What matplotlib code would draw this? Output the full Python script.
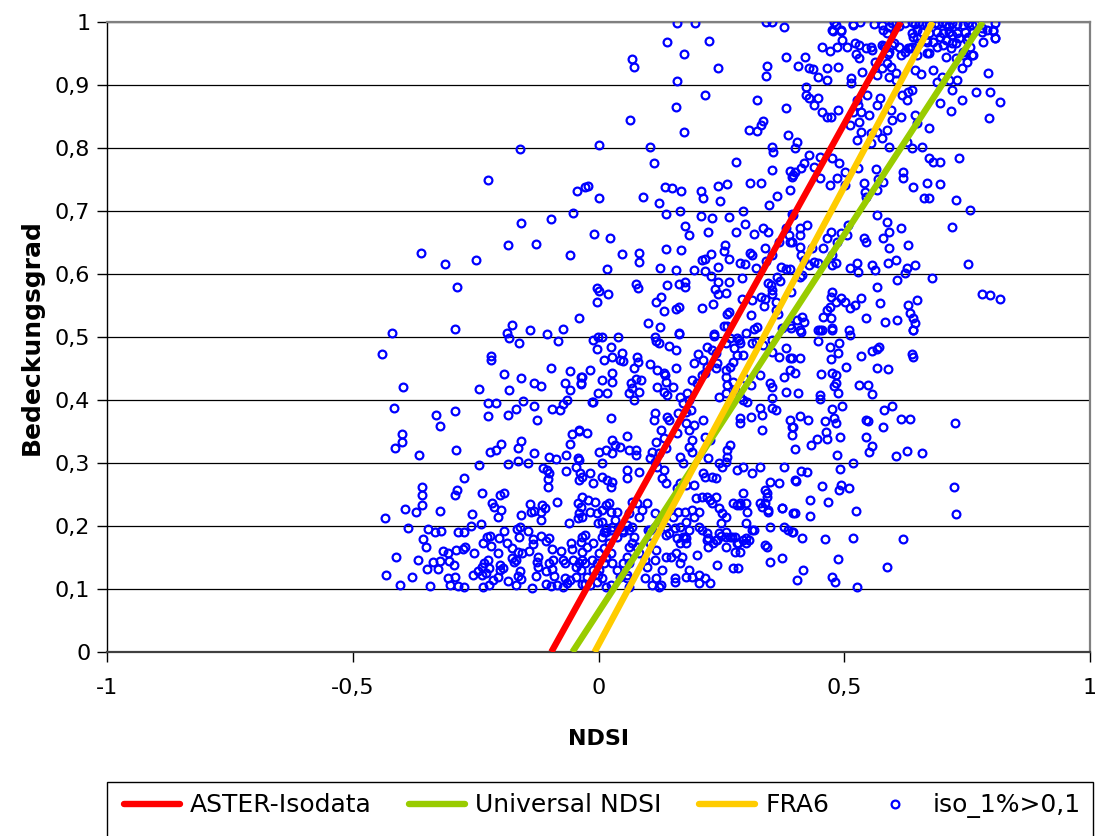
import matplotlib
matplotlib.use("Agg")
import matplotlib.pyplot as plt
from matplotlib.lines import Line2D
from matplotlib.patches import Rectangle
import numpy as np

plt.rcParams['font.family'] = ['DejaVu Sans']

# ---------------- data ----------------
# threshold lines: (NDSI at cover 0, NDSI at cover 1)
line_names = ["ASTER-Isodata", "Universal NDSI", "FRA6"]
line_colors = ["#FF0000", "#99CC00", "#FFCC00"]
line_x = [[-0.096, 0.615], [-0.053, 0.782], [-0.008, 0.680]]
line_y = [0.0, 1.0]

scatter_name = "iso_1%>0,1"

pts_upper_left = [
    (-0.159, 0.798), (-0.224, 0.749), (-0.043, 0.732), (-0.028, 0.738), (-0.051, 0.697),
    (-0.096, 0.687), (-0.157, 0.681), (-0.185, 0.646), (-0.128, 0.648), (-0.057, 0.630),
    (-0.362, 0.633), (-0.313, 0.616), (-0.250, 0.622), (-0.287, 0.579), (-0.039, 0.530),
    (-0.175, 0.519), (-0.187, 0.506), (-0.140, 0.511), (-0.104, 0.505), (-0.073, 0.513),
    (-0.291, 0.513), (-0.421, 0.506)]

pts_upper_mid = [
    (0.159, 0.998), (0.197, 0.998), (0.340, 1.0), (0.354, 1.0), (0.378, 0.992),
    (0.139, 0.968), (0.224, 0.970), (0.173, 0.949), (0.069, 0.941), (0.072, 0.929),
    (0.244, 0.927), (0.342, 0.930), (0.341, 0.914), (0.382, 0.944), (0.159, 0.906),
    (0.216, 0.884), (0.323, 0.876), (0.158, 0.865), (0.382, 0.863), (0.065, 0.844),
    (0.173, 0.826), (0.307, 0.829), (0.323, 0.827), (0.331, 0.836), (0.334, 0.843),
    (0.385, 0.821), (0.000, 0.805), (0.104, 0.802), (0.112, 0.776), (0.279, 0.778),
    (0.352, 0.802), (0.356, 0.794), (0.352, 0.765), (0.390, 0.764), (0.395, 0.757),
    (-0.022, 0.740), (0.002, 0.721), (0.091, 0.722), (0.124, 0.713), (0.136, 0.738),
    (0.149, 0.737), (0.167, 0.732), (0.208, 0.732), (0.212, 0.721), (0.244, 0.740),
    (0.262, 0.743), (0.248, 0.716), (0.309, 0.744), (0.330, 0.744), (0.346, 0.710),
    (0.364, 0.724), (0.389, 0.733), (0.138, 0.695), (0.165, 0.700), (0.208, 0.692),
    (0.230, 0.689), (0.266, 0.690), (0.293, 0.700), (0.393, 0.695), (-0.010, 0.663),
    (0.024, 0.657), (0.175, 0.676), (0.185, 0.662), (0.222, 0.667), (0.279, 0.667),
    (0.299, 0.679), (0.317, 0.663), (0.334, 0.673), (0.344, 0.667), (0.382, 0.673),
    (0.387, 0.662), (0.389, 0.651), (0.368, 0.651), (0.047, 0.632), (0.083, 0.633),
    (0.083, 0.619), (0.138, 0.640), (0.167, 0.638), (0.258, 0.646), (0.256, 0.637),
    (0.228, 0.632), (0.210, 0.622), (0.216, 0.624), (0.266, 0.624), (0.287, 0.617),
    (0.299, 0.616), (0.309, 0.633), (0.313, 0.630), (0.338, 0.641), (0.352, 0.630),
    (0.340, 0.621), (0.018, 0.608), (0.126, 0.610), (0.157, 0.606), (0.195, 0.606),
    (0.216, 0.605), (0.228, 0.597), (0.244, 0.611), (0.321, 0.610), (0.372, 0.611),
    (0.382, 0.608), (0.389, 0.608), (0.364, 0.595), (0.370, 0.589), (-0.004, 0.578),
    (0.002, 0.573), (0.020, 0.568), (-0.004, 0.556), (0.077, 0.584), (0.081, 0.578),
    (0.140, 0.583), (0.163, 0.584), (0.175, 0.587), (0.177, 0.579), (0.244, 0.587),
    (0.265, 0.587), (0.238, 0.576), (0.244, 0.568), (0.260, 0.570), (0.291, 0.594),
    (0.344, 0.586), (0.350, 0.583), (0.354, 0.575), (0.354, 0.568), (0.330, 0.564),
    (0.338, 0.560), (0.313, 0.559), (0.291, 0.560), (0.391, 0.571), (0.116, 0.556),
    (0.128, 0.563), (0.134, 0.541), (0.158, 0.544), (0.163, 0.548), (0.210, 0.546),
    (0.232, 0.552), (0.262, 0.537), (0.265, 0.540), (0.256, 0.517), (0.262, 0.517),
    (0.311, 0.535), (0.336, 0.549), (0.362, 0.556), (0.362, 0.543), (0.366, 0.537),
    (0.391, 0.514), (0.374, 0.514), (0.317, 0.513), (0.323, 0.516), (0.100, 0.522),
    (0.126, 0.516), (0.163, 0.506), (0.234, 0.505)]

pts_top_row = [
    (0.480, 1.0), (0.484, 0.995), (0.478, 0.986), (0.494, 0.986), (0.517, 0.995),
    (0.533, 1.0), (0.560, 0.997), (0.576, 0.995), (0.578, 0.987), (0.586, 0.982),
    (0.592, 0.992), (0.598, 0.998), (0.606, 1.0), (0.612, 0.994), (0.623, 0.998),
    (0.637, 1.0), (0.643, 0.997), (0.653, 1.0), (0.659, 0.997), (0.667, 0.998),
    (0.673, 0.995), (0.684, 0.998), (0.690, 0.997), (0.698, 1.0), (0.708, 0.997),
    (0.714, 0.994), (0.720, 0.998), (0.730, 0.997), (0.741, 0.995), (0.751, 0.998),
    (0.759, 0.995), (0.769, 0.997), (0.781, 0.990), (0.791, 0.987), (0.802, 0.986),
    (0.806, 0.998), (0.637, 0.982), (0.647, 0.987), (0.659, 0.984), (0.673, 0.982),
    (0.688, 0.984), (0.700, 0.982), (0.714, 0.984), (0.720, 0.979), (0.730, 0.982),
    (0.745, 0.984), (0.751, 0.976), (0.761, 0.984), (0.781, 0.984), (0.667, 0.971),
    (0.680, 0.968), (0.694, 0.976), (0.708, 0.971), (0.720, 0.967), (0.734, 0.975),
    (0.749, 0.971), (0.806, 0.975), (0.580, 0.962), (0.590, 0.950)]

pts_upper_right_a = [
    (0.476, 0.987), (0.494, 0.987), (0.496, 0.971), (0.517, 0.997), (0.454, 0.960),
    (0.472, 0.954), (0.486, 0.960), (0.505, 0.960), (0.521, 0.967), (0.531, 0.963),
    (0.545, 0.959), (0.555, 0.960), (0.557, 0.956), (0.576, 0.963), (0.582, 0.959),
    (0.592, 0.952), (0.598, 0.963), (0.612, 0.960), (0.623, 0.952), (0.629, 0.959),
    (0.637, 0.960), (0.639, 0.976), (0.647, 0.975), (0.653, 0.967), (0.669, 0.968),
    (0.673, 0.951), (0.688, 0.960), (0.700, 0.963), (0.708, 0.944), (0.718, 0.959),
    (0.728, 0.967), (0.741, 0.952), (0.755, 0.960), (0.761, 0.948), (0.783, 0.968),
    (0.806, 0.975), (0.802, 0.987), (0.792, 0.919)]

pts_upper_right_b = [
    (0.405, 0.930), (0.421, 0.944), (0.429, 0.927), (0.437, 0.925), (0.446, 0.913),
    (0.464, 0.927), (0.464, 0.908), (0.488, 0.929), (0.513, 0.911), (0.513, 0.903),
    (0.523, 0.949), (0.529, 0.943), (0.537, 0.921), (0.562, 0.937), (0.566, 0.916),
    (0.576, 0.927), (0.586, 0.935), (0.592, 0.913), (0.596, 0.929), (0.606, 0.919),
    (0.606, 0.908), (0.602, 0.967), (0.616, 0.948), (0.633, 0.959), (0.643, 0.924),
    (0.649, 0.948), (0.657, 0.917), (0.669, 0.951), (0.680, 0.924), (0.688, 0.905),
    (0.698, 0.913), (0.714, 0.908), (0.728, 0.943), (0.730, 0.908), (0.739, 0.927),
    (0.741, 0.948), (0.749, 0.937), (0.759, 0.948)]

pts_upper_right_c = [
    (0.423, 0.897), (0.423, 0.884), (0.429, 0.879), (0.446, 0.879), (0.439, 0.868),
    (0.454, 0.857), (0.464, 0.849), (0.474, 0.849), (0.488, 0.860), (0.511, 0.837),
    (0.517, 0.857), (0.525, 0.876), (0.527, 0.868), (0.535, 0.857), (0.547, 0.884),
    (0.551, 0.852), (0.531, 0.841), (0.535, 0.825), (0.555, 0.824), (0.566, 0.868),
    (0.572, 0.879), (0.566, 0.825), (0.576, 0.816), (0.586, 0.829), (0.596, 0.860),
    (0.598, 0.844), (0.616, 0.849), (0.618, 0.884), (0.627, 0.876), (0.629, 0.889),
    (0.637, 0.892), (0.643, 0.852), (0.647, 0.840), (0.659, 0.802), (0.673, 0.832),
    (0.694, 0.871), (0.720, 0.892), (0.739, 0.876), (0.769, 0.889), (0.796, 0.889),
    (0.816, 0.873), (0.794, 0.848), (0.718, 0.859), (0.525, 0.813), (0.555, 0.808),
    (0.592, 0.802), (0.627, 0.810), (0.637, 0.800)]

pts_upper_right_d = [
    (0.403, 0.810), (0.399, 0.800), (0.429, 0.789), (0.450, 0.786), (0.419, 0.776),
    (0.439, 0.770), (0.399, 0.762), (0.393, 0.754), (0.413, 0.768), (0.450, 0.752),
    (0.470, 0.741), (0.476, 0.784), (0.490, 0.776), (0.501, 0.762), (0.486, 0.752),
    (0.501, 0.741), (0.527, 0.768), (0.541, 0.744), (0.543, 0.730), (0.545, 0.722),
    (0.564, 0.767), (0.568, 0.751), (0.578, 0.746), (0.566, 0.733), (0.619, 0.762),
    (0.619, 0.752), (0.639, 0.738), (0.673, 0.784), (0.680, 0.778), (0.694, 0.778),
    (0.734, 0.784), (0.669, 0.744), (0.694, 0.743), (0.663, 0.721), (0.673, 0.721),
    (0.728, 0.717), (0.755, 0.702)]

pts_upper_right_e = [
    (0.395, 0.694), (0.425, 0.678), (0.409, 0.673), (0.409, 0.662), (0.393, 0.651),
    (0.409, 0.643), (0.413, 0.630), (0.419, 0.622), (0.435, 0.641), (0.456, 0.641),
    (0.439, 0.619), (0.429, 0.614), (0.446, 0.617), (0.474, 0.667), (0.464, 0.657),
    (0.486, 0.651), (0.494, 0.665), (0.505, 0.662), (0.507, 0.678), (0.476, 0.630),
    (0.484, 0.617), (0.476, 0.614), (0.511, 0.610), (0.525, 0.617), (0.527, 0.603),
    (0.541, 0.657), (0.545, 0.651), (0.566, 0.694), (0.586, 0.683), (0.592, 0.667),
    (0.578, 0.657), (0.592, 0.641), (0.588, 0.617), (0.557, 0.614), (0.562, 0.606),
    (0.616, 0.673), (0.629, 0.646), (0.627, 0.610), (0.623, 0.602), (0.643, 0.614),
    (0.608, 0.590), (0.566, 0.579), (0.720, 0.675), (0.751, 0.616), (0.678, 0.594),
    (0.606, 0.622)]

pts_upper_right_f = [
    (0.409, 0.595), (0.415, 0.598), (0.476, 0.571), (0.474, 0.563), (0.484, 0.556),
    (0.494, 0.562), (0.470, 0.548), (0.464, 0.543), (0.456, 0.532), (0.474, 0.530),
    (0.476, 0.514), (0.501, 0.556), (0.511, 0.546), (0.521, 0.551), (0.535, 0.562),
    (0.572, 0.554), (0.545, 0.530), (0.582, 0.524), (0.608, 0.527), (0.629, 0.551),
    (0.633, 0.538), (0.639, 0.530), (0.643, 0.522), (0.639, 0.511), (0.647, 0.559),
    (0.509, 0.511), (0.446, 0.511), (0.454, 0.511), (0.415, 0.532), (0.419, 0.524),
    (0.403, 0.527), (0.389, 0.519), (0.409, 0.511), (0.781, 0.568), (0.796, 0.567),
    (0.816, 0.560)]

pts_lower_left = [
    (-0.440, 0.473), (-0.397, 0.421), (-0.417, 0.388), (-0.330, 0.376), (-0.323, 0.359),
    (-0.291, 0.383), (-0.399, 0.346), (-0.399, 0.333), (-0.415, 0.324), (-0.366, 0.313),
    (-0.289, 0.321), (-0.244, 0.417), (-0.218, 0.470), (-0.218, 0.464), (-0.183, 0.498),
    (-0.161, 0.490), (-0.083, 0.494), (-0.193, 0.441), (-0.183, 0.416), (-0.157, 0.435),
    (-0.132, 0.427), (-0.116, 0.422), (-0.096, 0.451), (-0.057, 0.446), (-0.069, 0.427),
    (-0.059, 0.416), (-0.035, 0.437), (-0.035, 0.425), (-0.224, 0.395), (-0.208, 0.395),
    (-0.224, 0.375), (-0.185, 0.376), (-0.167, 0.386), (-0.153, 0.398), (-0.132, 0.390),
    (-0.126, 0.368), (-0.094, 0.386), (-0.079, 0.384), (-0.073, 0.394), (-0.065, 0.400),
    (-0.053, 0.346), (-0.039, 0.351), (-0.059, 0.330), (-0.220, 0.317), (-0.208, 0.321),
    (-0.199, 0.330), (-0.163, 0.324), (-0.157, 0.335), (-0.132, 0.316), (-0.244, 0.297),
    (-0.185, 0.298), (-0.163, 0.303), (-0.144, 0.300), (-0.100, 0.310), (-0.087, 0.306),
    (-0.067, 0.313), (-0.041, 0.308), (-0.112, 0.292), (-0.104, 0.289), (-0.100, 0.284),
    (-0.102, 0.275), (-0.102, 0.262), (-0.067, 0.287), (-0.045, 0.294), (-0.037, 0.284),
    (-0.039, 0.273), (-0.273, 0.276), (-0.360, 0.262), (-0.360, 0.249), (-0.360, 0.233),
    (-0.287, 0.257), (-0.291, 0.249), (-0.238, 0.252), (-0.201, 0.249), (-0.193, 0.252),
    (-0.393, 0.227), (-0.372, 0.222), (-0.323, 0.224), (-0.435, 0.213), (-0.258, 0.219),
    (-0.216, 0.237), (-0.212, 0.230), (-0.199, 0.225), (-0.205, 0.214), (-0.140, 0.235),
    (-0.132, 0.224), (-0.138, 0.222), (-0.118, 0.222), (-0.114, 0.233), (-0.108, 0.229),
    (-0.116, 0.210), (-0.157, 0.217), (-0.085, 0.238), (-0.041, 0.237), (-0.039, 0.221),
    (-0.041, 0.213), (-0.061, 0.205)]

pts_lower_left_b = [
    (-0.387, 0.197), (-0.346, 0.195), (-0.332, 0.190), (-0.321, 0.192), (-0.285, 0.190),
    (-0.273, 0.190), (-0.260, 0.200), (-0.240, 0.203), (-0.358, 0.179), (-0.350, 0.167),
    (-0.317, 0.160), (-0.307, 0.157), (-0.289, 0.162), (-0.275, 0.163), (-0.271, 0.167),
    (-0.254, 0.157), (-0.413, 0.151), (-0.368, 0.146), (-0.336, 0.143), (-0.323, 0.144),
    (-0.305, 0.144), (-0.348, 0.132), (-0.326, 0.132), (-0.293, 0.138), (-0.433, 0.122),
    (-0.380, 0.119), (-0.403, 0.106), (-0.342, 0.105), (-0.307, 0.117), (-0.291, 0.119),
    (-0.303, 0.106), (-0.285, 0.105), (-0.273, 0.103), (-0.256, 0.122), (-0.246, 0.129),
    (-0.238, 0.135), (-0.232, 0.141), (-0.238, 0.122), (-0.228, 0.125), (-0.222, 0.133),
    (-0.224, 0.146), (-0.236, 0.173), (-0.226, 0.183), (-0.220, 0.184), (-0.218, 0.168),
    (-0.203, 0.181), (-0.205, 0.157), (-0.236, 0.103), (-0.222, 0.106), (-0.214, 0.114),
    (-0.205, 0.119), (-0.201, 0.130), (-0.195, 0.133), (-0.201, 0.138), (-0.193, 0.192),
    (-0.187, 0.173), (-0.177, 0.165), (-0.165, 0.195), (-0.159, 0.198), (-0.161, 0.183),
    (-0.144, 0.192), (-0.134, 0.179), (-0.134, 0.171), (-0.142, 0.160), (-0.116, 0.184),
    (-0.106, 0.176), (-0.100, 0.181), (-0.163, 0.159), (-0.155, 0.157), (-0.175, 0.149),
    (-0.167, 0.146), (-0.171, 0.143), (-0.124, 0.151), (-0.126, 0.143), (-0.124, 0.135),
    (-0.159, 0.129), (-0.163, 0.121), (-0.157, 0.116), (-0.185, 0.113), (-0.167, 0.106),
    (-0.136, 0.102), (-0.128, 0.121), (-0.106, 0.129), (-0.094, 0.132), (-0.100, 0.141),
    (-0.092, 0.146), (-0.094, 0.163), (-0.077, 0.160), (-0.073, 0.146), (-0.069, 0.141),
    (-0.106, 0.108), (-0.096, 0.105), (-0.090, 0.121), (-0.085, 0.106), (-0.073, 0.103),
    (-0.065, 0.110), (-0.059, 0.114), (-0.069, 0.117), (-0.055, 0.173), (-0.053, 0.163),
    (-0.051, 0.146), (-0.045, 0.135), (-0.039, 0.141), (-0.033, 0.146), (-0.045, 0.119),
    (-0.033, 0.108), (-0.033, 0.183)]

pts_lower_mid_a = [
    (-0.012, 0.495), (-0.002, 0.500), (0.008, 0.500), (0.039, 0.500), (-0.004, 0.481),
    (0.026, 0.484), (0.114, 0.500), (0.124, 0.490), (0.118, 0.494), (0.144, 0.486),
    (0.157, 0.479), (0.163, 0.505), (0.234, 0.502), (0.220, 0.484), (0.230, 0.479),
    (0.240, 0.475), (0.203, 0.473), (0.212, 0.464), (0.220, 0.452), (0.195, 0.459),
    (0.260, 0.490), (0.267, 0.498), (0.281, 0.498), (0.285, 0.495), (0.287, 0.490),
    (0.275, 0.483), (0.281, 0.471), (0.293, 0.471), (0.273, 0.460), (0.267, 0.452),
    (0.301, 0.506), (0.313, 0.490), (0.321, 0.492), (0.334, 0.487), (0.352, 0.476),
    (0.354, 0.495), (0.368, 0.468), (0.382, 0.483), (0.389, 0.467), (0.012, 0.464),
    (0.028, 0.468), (0.047, 0.475), (0.043, 0.464), (0.049, 0.462), (0.028, 0.443),
    (-0.018, 0.448), (-0.033, 0.437), (-0.035, 0.427), (0.079, 0.468), (0.081, 0.460),
    (0.073, 0.451), (0.104, 0.457), (0.120, 0.448), (0.134, 0.443), (0.136, 0.440),
    (0.157, 0.451), (0.008, 0.432), (0.028, 0.429), (0.018, 0.411), (-0.002, 0.411),
    (-0.012, 0.397), (0.067, 0.427), (0.077, 0.433), (0.087, 0.432), (0.069, 0.419),
    (0.063, 0.411), (0.073, 0.400), (0.083, 0.413), (0.120, 0.421), (0.134, 0.413),
    (0.140, 0.408), (0.151, 0.421), (0.138, 0.429), (0.165, 0.405), (0.181, 0.411),
    (0.185, 0.400), (0.171, 0.395), (0.191, 0.432), (0.201, 0.427), (0.210, 0.440),
    (0.216, 0.443), (0.240, 0.451), (0.242, 0.459), (0.260, 0.437), (0.262, 0.424),
    (0.273, 0.429), (0.277, 0.416), (0.260, 0.411), (0.246, 0.405), (0.260, 0.448),
    (0.297, 0.435), (0.311, 0.424), (0.328, 0.440), (0.348, 0.427), (0.352, 0.421),
    (0.354, 0.403), (0.378, 0.437), (0.389, 0.448), (0.382, 0.413), (0.287, 0.405),
    (0.293, 0.400), (0.303, 0.397), (0.328, 0.387), (0.332, 0.376), (0.332, 0.352),
    (0.311, 0.373), (0.287, 0.371), (0.287, 0.363), (0.354, 0.387), (0.362, 0.384),
    (0.389, 0.368), (0.395, 0.357)]

pts_lower_mid_b = [
    (-0.014, 0.397), (0.026, 0.371), (0.057, 0.343), (0.028, 0.337), (0.033, 0.329),
    (0.016, 0.321), (0.002, 0.317), (-0.024, 0.348), (-0.039, 0.352), (0.043, 0.325),
    (0.028, 0.316), (0.008, 0.300), (-0.039, 0.305), (-0.033, 0.278), (-0.018, 0.284),
    (-0.012, 0.268), (0.008, 0.278), (0.018, 0.273), (0.028, 0.270), (0.026, 0.262),
    (0.063, 0.321), (0.077, 0.321), (0.077, 0.313), (0.059, 0.289), (0.083, 0.286),
    (0.057, 0.276), (0.114, 0.379), (0.112, 0.368), (0.128, 0.352), (0.134, 0.340),
    (0.118, 0.333), (0.108, 0.317), (0.124, 0.316), (0.138, 0.324), (0.140, 0.373),
    (0.144, 0.368), (0.161, 0.379), (0.159, 0.348), (0.179, 0.381), (0.189, 0.384),
    (0.179, 0.363), (0.185, 0.352), (0.195, 0.360), (0.191, 0.337), (0.185, 0.325),
    (0.191, 0.317), (0.165, 0.310), (0.171, 0.300), (0.104, 0.308), (0.114, 0.302),
    (0.120, 0.294), (0.134, 0.289), (0.130, 0.276), (0.138, 0.268), (0.159, 0.260),
    (0.165, 0.268), (0.179, 0.265), (0.195, 0.265), (0.212, 0.368), (0.216, 0.341),
    (0.226, 0.337), (0.222, 0.308), (0.212, 0.284), (0.216, 0.278), (0.230, 0.278),
    (0.240, 0.276), (0.246, 0.300), (0.252, 0.294), (0.260, 0.302), (0.262, 0.310),
    (0.262, 0.321), (0.267, 0.329), (0.281, 0.289), (0.293, 0.294), (0.313, 0.284),
    (0.328, 0.294), (0.348, 0.270), (0.368, 0.268), (0.378, 0.294), (0.399, 0.273),
    (0.293, 0.252), (0.287, 0.237), (0.281, 0.233), (0.301, 0.237), (0.303, 0.222),
    (0.338, 0.257), (0.342, 0.246), (0.338, 0.237), (0.344, 0.225), (0.374, 0.229),
    (0.395, 0.221)]

pts_lower_mid_c = [
    (-0.033, 0.246), (-0.022, 0.241), (-0.008, 0.238), (-0.035, 0.230), (-0.018, 0.222),
    (-0.033, 0.214), (-0.004, 0.221), (0.008, 0.225), (0.016, 0.233), (0.022, 0.237),
    (0.026, 0.222), (0.037, 0.222), (-0.002, 0.205), (0.008, 0.206), (0.016, 0.197),
    (0.012, 0.190), (0.028, 0.198), (0.033, 0.210), (0.043, 0.198), (0.049, 0.194),
    (0.069, 0.238), (0.079, 0.237), (0.098, 0.237), (0.089, 0.225), (0.063, 0.221),
    (0.083, 0.214), (0.069, 0.198), (0.059, 0.202), (0.063, 0.194), (0.114, 0.221),
    (0.128, 0.214), (0.138, 0.221), (0.151, 0.214), (0.161, 0.222), (0.175, 0.222),
    (0.179, 0.206), (0.191, 0.225), (0.195, 0.214), (0.205, 0.222), (0.199, 0.244),
    (0.210, 0.246), (0.220, 0.246), (0.226, 0.241), (0.230, 0.237), (0.240, 0.246),
    (0.246, 0.229), (0.252, 0.221), (0.260, 0.214), (0.273, 0.237), (0.287, 0.233),
    (0.114, 0.198), (0.104, 0.194), (0.124, 0.198), (0.138, 0.198), (0.144, 0.189),
    (0.155, 0.197), (0.165, 0.198), (0.171, 0.183), (0.179, 0.181), (0.185, 0.194),
    (0.205, 0.198), (0.210, 0.194), (0.220, 0.189), (0.222, 0.181), (0.240, 0.178),
    (0.250, 0.184), (0.260, 0.190), (0.250, 0.205), (0.267, 0.183), (0.277, 0.183),
    (0.281, 0.173), (0.293, 0.178), (0.301, 0.181), (0.301, 0.205), (0.313, 0.194),
    (0.328, 0.237), (0.332, 0.230), (0.342, 0.252), (0.344, 0.222), (0.348, 0.198),
    (0.374, 0.229), (0.378, 0.198), (0.385, 0.194), (0.395, 0.190)]

pts_lower_mid_d = [
    (-0.028, 0.186), (-0.035, 0.175), (-0.024, 0.167), (-0.012, 0.173), (-0.033, 0.159),
    (-0.014, 0.146), (-0.028, 0.141), (-0.035, 0.130), (-0.024, 0.119), (-0.012, 0.130),
    (-0.004, 0.141), (-0.002, 0.122), (-0.004, 0.111), (-0.018, 0.106), (-0.028, 0.108),
    (0.008, 0.183), (0.016, 0.190), (0.026, 0.194), (0.037, 0.183), (0.022, 0.173),
    (0.012, 0.165), (0.002, 0.157), (0.016, 0.151), (0.026, 0.157), (0.028, 0.141),
    (0.012, 0.141), (0.002, 0.130), (0.008, 0.117), (0.016, 0.103), (0.026, 0.106),
    (0.037, 0.130), (0.043, 0.119), (0.049, 0.141), (0.057, 0.151), (0.063, 0.167),
    (0.069, 0.173), (0.073, 0.183), (0.049, 0.190), (0.079, 0.167), (0.083, 0.157),
    (0.063, 0.141), (0.059, 0.117), (0.057, 0.122), (0.094, 0.146), (0.098, 0.135),
    (0.094, 0.117), (0.108, 0.106), (0.118, 0.117), (0.114, 0.146), (0.118, 0.162),
    (0.104, 0.173), (0.100, 0.194), (0.128, 0.106), (0.130, 0.130), (0.138, 0.151),
    (0.148, 0.151), (0.157, 0.157), (0.155, 0.117), (0.155, 0.111), (0.165, 0.141),
    (0.169, 0.151), (0.138, 0.186), (0.159, 0.181), (0.165, 0.173), (0.175, 0.183),
    (0.179, 0.173), (0.185, 0.130), (0.191, 0.119), (0.179, 0.119), (0.205, 0.122),
    (0.216, 0.117), (0.226, 0.110), (0.205, 0.110), (0.201, 0.154), (0.220, 0.178),
    (0.222, 0.167), (0.232, 0.173), (0.246, 0.189), (0.242, 0.178), (0.260, 0.183),
    (0.260, 0.167), (0.271, 0.183), (0.277, 0.159), (0.283, 0.173), (0.287, 0.159),
    (0.301, 0.173), (0.307, 0.178), (0.317, 0.194), (0.338, 0.170), (0.342, 0.167),
    (0.348, 0.143), (0.374, 0.149), (0.273, 0.133), (0.283, 0.133), (0.242, 0.138),
    (0.063, 0.103), (0.124, 0.103)]

pts_lower_right = [
    (0.413, 0.508), (0.450, 0.511), (0.476, 0.511), (0.511, 0.503), (0.639, 0.511),
    (0.446, 0.494), (0.470, 0.484), (0.490, 0.490), (0.488, 0.475), (0.474, 0.465),
    (0.409, 0.467), (0.393, 0.467), (0.535, 0.470), (0.557, 0.478), (0.566, 0.481),
    (0.570, 0.484), (0.637, 0.473), (0.639, 0.468), (0.566, 0.451), (0.588, 0.449),
    (0.503, 0.452), (0.399, 0.443), (0.452, 0.441), (0.476, 0.443), (0.484, 0.440),
    (0.484, 0.427), (0.480, 0.422), (0.488, 0.411), (0.531, 0.424), (0.549, 0.424),
    (0.557, 0.410), (0.405, 0.411), (0.450, 0.408), (0.450, 0.402), (0.409, 0.375),
    (0.427, 0.368), (0.460, 0.367), (0.480, 0.371), (0.484, 0.363), (0.476, 0.386),
    (0.496, 0.390), (0.580, 0.384), (0.598, 0.390), (0.545, 0.368), (0.549, 0.367),
    (0.578, 0.357), (0.616, 0.370), (0.633, 0.370), (0.726, 0.363), (0.393, 0.357),
    (0.393, 0.344), (0.399, 0.322), (0.433, 0.329), (0.444, 0.338), (0.462, 0.349),
    (0.464, 0.338), (0.492, 0.341), (0.545, 0.341), (0.557, 0.327), (0.551, 0.317),
    (0.486, 0.313), (0.606, 0.311), (0.627, 0.319), (0.659, 0.316), (0.517, 0.300),
    (0.413, 0.287), (0.425, 0.286), (0.401, 0.271), (0.492, 0.290), (0.454, 0.263),
    (0.494, 0.265), (0.490, 0.257), (0.509, 0.260), (0.431, 0.241), (0.466, 0.238),
    (0.399, 0.221), (0.431, 0.216), (0.523, 0.224), (0.723, 0.262), (0.728, 0.219),
    (0.393, 0.190), (0.415, 0.181), (0.460, 0.179), (0.517, 0.181), (0.619, 0.179),
    (0.488, 0.148), (0.417, 0.130), (0.403, 0.114), (0.476, 0.119), (0.482, 0.111),
    (0.586, 0.135), (0.525, 0.103)]

all_groups = [pts_upper_left, pts_upper_mid, pts_top_row, pts_upper_right_a,
              pts_upper_right_b, pts_upper_right_c, pts_upper_right_d,
              pts_upper_right_e, pts_upper_right_f, pts_lower_left, pts_lower_left_b,
              pts_lower_mid_a, pts_lower_mid_b, pts_lower_mid_c, pts_lower_mid_d,
              pts_lower_right]
pts = np.array([p for g in all_groups for p in g])

x_ticks = [-1, -0.5, 0, 0.5, 1]
x_labels = ["-1", "-0,5", "0", "0,5", "1"]
y_ticks = [round(0.1 * i, 1) for i in range(11)]
y_labels = ["0"] + ["0,%d" % i for i in range(1, 10)] + ["1"]

# ---------------- figure ----------------
W, H = 1095, 836
fig = plt.figure(figsize=(W / 100, H / 100), dpi=100)
ax = fig.add_axes([107 / W, 1 - 652 / H, (1090 - 107) / W, (652 - 22) / H])
ax.set_xlim(-1, 1)
ax.set_ylim(0, 1)

for yt in y_ticks[1:]:
    ax.axhline(yt, color="black", lw=0.9, zorder=1)

ax.plot(pts[:, 0], pts[:, 1], linestyle="none", marker="o", ms=5.6,
        mfc="none", mec="#0000FF", mew=1.6, zorder=3)

for name, col, lx in zip(line_names, line_colors, line_x):
    ax.plot(lx, line_y, color=col, lw=4.6, solid_capstyle="butt", zorder=4)

for side in ["top", "right"]:
    ax.spines[side].set_color("#808080")
    ax.spines[side].set_linewidth(1.6)
ax.spines["left"].set_color("black")
ax.spines["left"].set_linewidth(1.0)
ax.spines["bottom"].set_color("#404040")
ax.spines["bottom"].set_linewidth(1.6)

ax.set_xticks(x_ticks)
ax.set_xticklabels(x_labels)
ax.set_yticks(y_ticks)
ax.set_yticklabels(y_labels)
ax.tick_params(axis="both", direction="out", length=7, width=1, labelsize=16, color="black")
ax.tick_params(axis="x", pad=12)
ax.tick_params(axis="y", pad=5)

ax.set_xlabel("NDSI", fontsize=16, fontweight="bold", labelpad=22)
ax.set_ylabel("Bedeckungsgrad", fontsize=18, fontweight="bold", labelpad=8)

# legend box
fig.patches.append(Rectangle((107 / W, 0 - 0.05), (1093 - 107) / W, 1 - 782 / H + 0.05,
                             transform=fig.transFigure, fill=False, ec="black", lw=1.0))
handles = [Line2D([], [], color=c, lw=4.6, solid_capstyle="round") for c in line_colors]
handles.append(Line2D([], [], linestyle="none", marker="o", ms=5.6, mfc="none",
                      mec="#0000FF", mew=1.6))
labels = line_names + [scatter_name]
fig.legend(handles, labels, loc="center left", bbox_to_anchor=(124 / W, 1 - 806 / H),
           ncol=4, frameon=False, fontsize=18, handlelength=2.24, handletextpad=0.4,
           columnspacing=1.5, borderpad=0, borderaxespad=0, numpoints=1)

fig.savefig("out.png", dpi=100)
